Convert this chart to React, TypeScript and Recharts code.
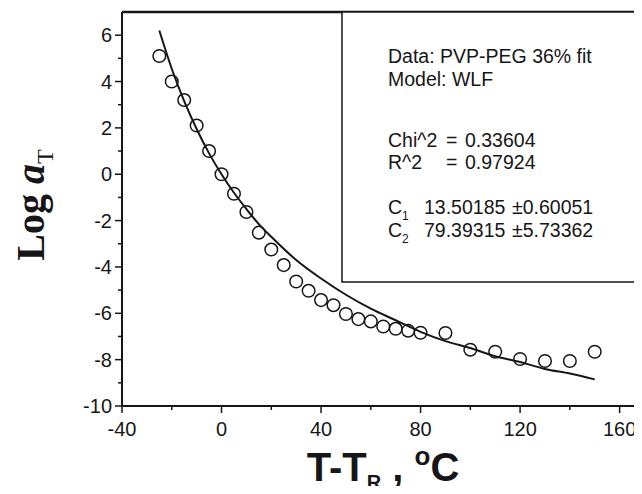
import React from "react";
import { ComposedChart, Line, Scatter, XAxis, YAxis, ReferenceLine } from "recharts";

// measured points (T - Tr, log aT)
const pointT = [-25, -20, -15, -10, -5, 0, 5, 10, 15, 20, 25, 30, 35, 40, 45, 50, 55, 60, 65, 70, 75, 80, 90, 100, 110, 120, 130, 140, 150];
const pointLogA = [5.1, 4.0, 3.2, 2.1, 1.0, 0, -0.84, -1.63, -2.52, -3.25, -3.92, -4.63, -5.03, -5.43, -5.65, -6.03, -6.25, -6.35, -6.57, -6.67, -6.75, -6.84, -6.85, -7.57, -7.66, -7.97, -8.06, -8.06, -7.66];

// WLF fit curve
const fitT = [-25, -20, -15, -10, -5, 0, 5, 10, 15, 20, 30, 40, 50, 60, 70, 80, 90, 100, 110, 120, 130, 140, 150];
const fitLogA = [6.2, 4.55, 3.15, 1.95, 0.9, 0, -0.8, -1.5, -2.15, -2.7, -3.7, -4.5, -5.2, -5.8, -6.3, -6.8, -7.2, -7.5, -7.85, -8.1, -8.4, -8.6, -8.85];

const xTicks = [-40, -20, 0, 20, 40, 60, 80, 100, 120, 140, 160];
const yTicks = [-10, -9, -8, -7, -6, -5, -4, -3, -2, -1, 0, 1, 2, 3, 4, 5, 6];

const points = pointT.map((x, i) => ({ x, y: pointLogA[i] }));
const fit = fitT.map((x, i) => ({ x, y: fitLogA[i] }));

const ink = "#161616";
const sans = "'Liberation Sans', Arial, sans-serif";

const XTick = (props: any) => {
  const { x, y, payload } = props;
  const major = payload.value % 40 === 0;
  return (
    <g>
      <line x1={x} y1={y} x2={x} y2={y + (major ? 7 : 4)} stroke={ink} strokeWidth={1.5} />
      {major && (
        <text x={x} y={y + 30} textAnchor="middle" fontFamily={sans} fontSize={20} fill={ink}>
          {payload.value}
        </text>
      )}
    </g>
  );
};

const YTick = (props: any) => {
  const { x, y, payload } = props;
  const major = payload.value % 2 === 0;
  return (
    <g>
      <line x1={x} y1={y} x2={x - (major ? 7 : 4)} y2={y} stroke={ink} strokeWidth={1.5} />
      {major && (
        <text x={x - 10} y={y + 7} textAnchor="end" fontFamily={sans} fontSize={20} fill={ink}>
          {payload.value}
        </text>
      )}
    </g>
  );
};

const Circle = (props: any) => {
  const { cx, cy } = props;
  return <circle cx={cx} cy={cy} r={6.3} fill="none" stroke={ink} strokeWidth={1.5} />;
};

export default function App() {
  return (
    <div style={{ position: "relative", width: 642, height: 494, margin: -8, background: "#fff" }}>
      <ComposedChart width={642} height={494} margin={{ top: 12, right: 0, left: 0, bottom: 0 }}>
        <XAxis
          type="number"
          dataKey="x"
          domain={[-40, 169]}
          ticks={xTicks}
          interval={0}
          allowDataOverflow
          height={88}
          tickSize={0}
          tickMargin={0}
          tickLine={false}
          axisLine={{ stroke: ink, strokeWidth: 2 }}
          tick={<XTick />}
        />
        <YAxis
          type="number"
          dataKey="y"
          domain={[-10, 7]}
          ticks={yTicks}
          interval={0}
          allowDataOverflow
          width={122}
          tickSize={0}
          tickMargin={0}
          tickLine={false}
          axisLine={{ stroke: ink, strokeWidth: 2 }}
          tick={<YTick />}
        />
        <ReferenceLine y={7} stroke={ink} strokeWidth={2.5} />
        <Line
          data={fit}
          dataKey="y"
          type="monotone"
          stroke={ink}
          strokeWidth={2}
          dot={false}
          activeDot={false}
          isAnimationActive={false}
        />
        <Scatter data={points} dataKey="y" shape={<Circle />} isAnimationActive={false} />
      </ComposedChart>
      <svg
        width={642}
        height={494}
        style={{ position: "absolute", left: 0, top: 0, pointerEvents: "none" }}
      >
        <rect x={342} y={12} width={296} height={270} fill="#fff" stroke={ink} strokeWidth={1.5} />
        <g fontFamily={sans} fontSize={19.5} fill={ink}>
          <text x={388} y={63}>Data: PVP-PEG 36% fit</text>
          <text x={388} y={86}>Model: WLF</text>
          <text x={388} y={147}>Chi^2</text>
          <text x={446} y={147}>=</text>
          <text x={465} y={147}>0.33604</text>
          <text x={388} y={169}>R^2</text>
          <text x={446} y={169}>=</text>
          <text x={465} y={169}>0.97924</text>
          <text x={388} y={214}>
            C<tspan fontSize={12} dy={6}>1</tspan>
          </text>
          <text x={424} y={214}>13.50185</text>
          <text x={512} y={214}>±0.60051</text>
          <text x={388} y={237}>
            C<tspan fontSize={12} dy={6}>2</tspan>
          </text>
          <text x={424} y={237}>79.39315</text>
          <text x={512} y={237}>±5.73362</text>
        </g>
        <text
          transform="translate(44,205) rotate(-90)"
          textAnchor="middle"
          fontFamily="'Liberation Serif', 'Times New Roman', serif"
          fontWeight="bold"
          fontSize={40}
          fill={ink}
        >
          Log <tspan fontStyle="italic">a</tspan>
          <tspan fontSize={24} dy={9} fontWeight="normal">T</tspan>
        </text>
        <text
          x={383}
          y={481}
          textAnchor="middle"
          fontFamily={sans}
          fontWeight="bold"
          fontSize={40}
          fill={ink}
        >
          T-T<tspan fontSize={20} dy={8}>R</tspan>
          <tspan dy={-8}> , </tspan>
          <tspan fontSize={26} dy={-16}>o</tspan>
          <tspan dy={16}>C</tspan>
        </text>
      </svg>
    </div>
  );
}
